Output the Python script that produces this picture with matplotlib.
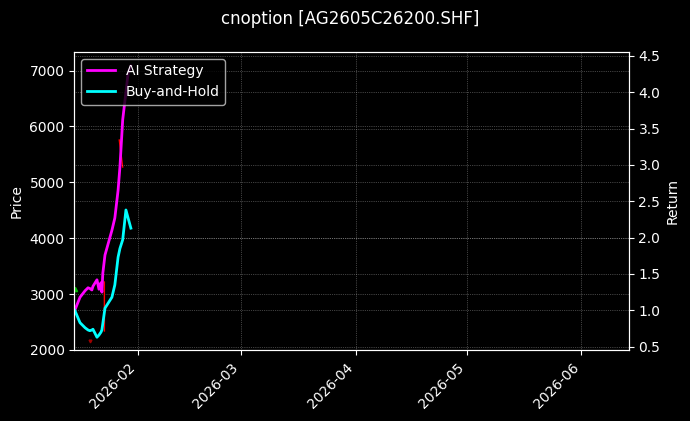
import numpy as np
import pandas as pd
import matplotlib
matplotlib.use('Agg')
import matplotlib.pyplot as plt
import matplotlib.dates as mdates

# Strategy curves (return multiples)
times = ['2026-01-15 00:00', '2026-01-16 10:00', '2026-01-17 19:00', '2026-01-18 14:00',
         '2026-01-19 02:00', '2026-01-19 15:00', '2026-01-19 22:00', '2026-01-21 00:00',
         '2026-01-21 13:00', '2026-01-22 02:00', '2026-01-22 08:00', '2026-01-22 14:00',
         '2026-01-23 04:00', '2026-01-25 01:00', '2026-01-25 20:00', '2026-01-26 17:00',
         '2026-01-27 05:00', '2026-01-27 23:00', '2026-01-28 20:00', '2026-01-29 10:00',
         '2026-01-30 04:00']
ai_strategy = [1.00, 1.18, 1.27, 1.31, 1.30, 1.28, 1.33, 1.42, 1.29, 1.38, 1.25, 1.51,
               1.76, 2.10, 2.27, 2.65, 2.97, 3.62, 4.00, 4.26, 4.36]
buy_hold = [1.00, 0.83, 0.76, 0.73, 0.72, 0.73, 0.74, 0.63, 0.66, 0.70, 0.73, 0.82,
            1.03, 1.18, 1.35, 1.73, 1.85, 1.97, 2.38, 2.27, 2.13]

# Option price (sparse, gaps where no trade)
price_times = ['2026-01-23 00:00', '2026-01-23 00:20', '2026-01-25 00:00',
               '2026-01-27 00:45', '2026-01-27 22:50']
price_close = [3216, 2340, np.nan, 5757, 5274]

# Trade signals
buy_times = ['2026-01-15 00:00']
buy_prices = [3090]
sell_times = ['2026-01-19 02:00']
sell_prices = [2160]

t = pd.to_datetime(times)
pt = pd.to_datetime(price_times)

plt.style.use('dark_background')
fig = plt.figure(figsize=(6.9, 4.21), dpi=100)
ax1 = fig.add_axes([0.1077, 0.1675, 0.8035, 0.7095])
ax2 = ax1.twinx()

ax1.plot(pt, price_close, color='red', linewidth=1.0)
ax1.plot(pd.to_datetime(buy_times), buy_prices, '^', color='#00c000', markersize=3)
ax1.plot(pd.to_datetime(sell_times), sell_prices, 'v', color='#a00000', markersize=2)
ax1.set_ylabel('Price')
ax1.set_ylim(1991, 7336)
ax1.grid(True, linestyle=':', linewidth=0.5, alpha=0.5)

ax2.plot(t, ai_strategy, color='#ff00ff', linewidth=2, label='AI Strategy')
ax2.plot(t, buy_hold, color='#00ffff', linewidth=2, label='Buy-and-Hold')
ax2.set_ylabel('Return')
ax2.set_ylim(0.448, 4.555)
ax2.grid(True, linestyle=':', linewidth=0.5, alpha=0.5)

ax1.set_xlim(pd.Timestamp('2026-01-14 21:00'), pd.Timestamp('2026-06-13 19:00'))
ax1.xaxis.set_major_locator(mdates.MonthLocator())
ax1.xaxis.set_major_formatter(mdates.DateFormatter('%Y-%m'))
plt.setp(ax1.get_xticklabels(), rotation=45, ha='right')

ax2.legend(loc='upper left')
fig.suptitle('cnoption [AG2605C26200.SHF]', fontsize=12, x=0.508, y=0.977)

fig.savefig('out.png', dpi=100)
